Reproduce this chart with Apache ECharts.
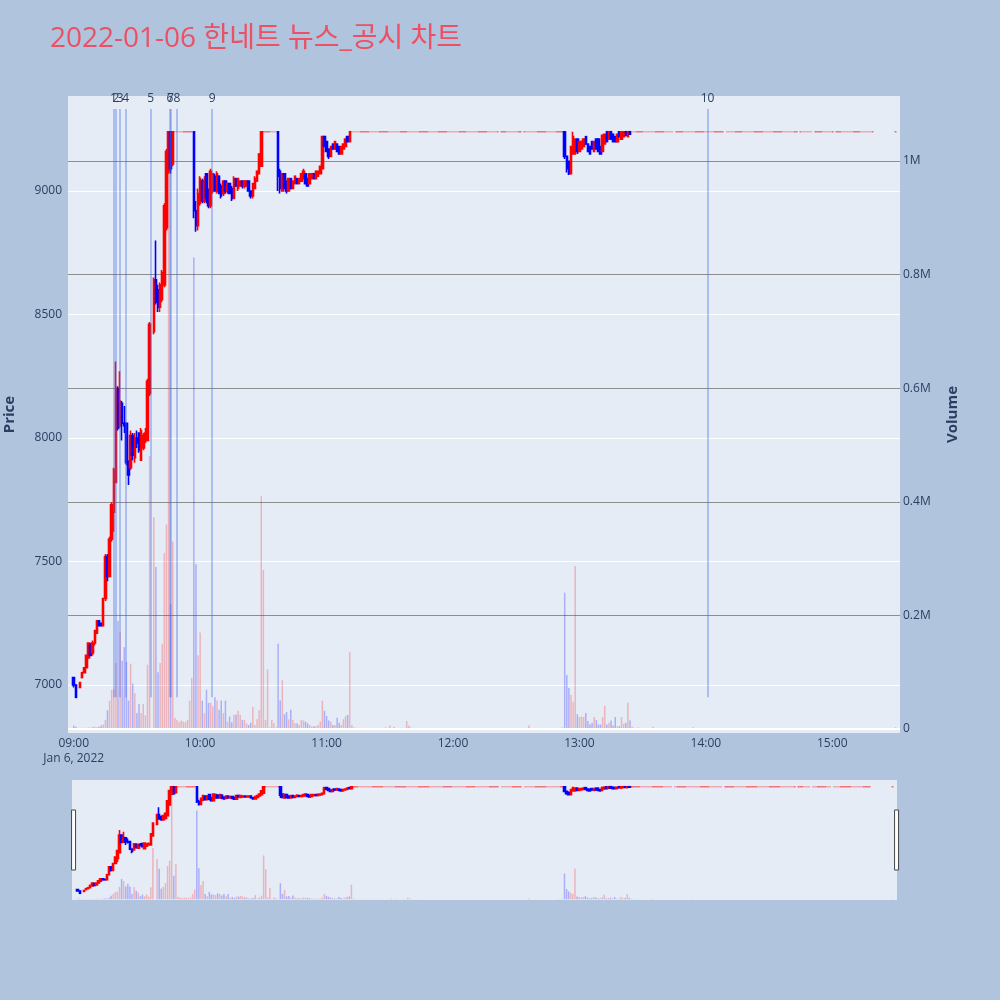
<!DOCTYPE html>
<html><head><meta charset="utf-8">
<script src="https://cdn.jsdelivr.net/npm/echarts@6/dist/echarts.min.js"></script>
<style>html,body{margin:0;padding:0;background:#b0c4de;}#c{width:1000px;height:1000px;}</style>
</head><body><div id="c"></div>
<script>
// ---------------- DATA ----------------
const chartTitle = '2022-01-06 한네트 뉴스_공시 차트';
const dateLabel = 'Jan 6, 2022';
const upperLimit = 9240;           // price of the minutes traded flat at the upper limit
// moving minutes: [time, open, high, low, close, volume]
const movingBars = [
['09:00',7030,7030,6990,7000,6000],['09:01',7000,7000,6950,6950,4000],['09:03',6990,7010,6990,7010,2000],
['09:04',7030,7050,7030,7050,1500],['09:05',7050,7070,7050,7070,2000],['09:06',7070,7120,7070,7120,2000],
['09:07',7110,7170,7110,7170,3000],['09:08',7160,7170,7120,7120,2000],['09:09',7130,7180,7120,7170,4000],
['09:10',7170,7220,7160,7220,4000],['09:11',7210,7260,7210,7260,3000],['09:12',7260,7260,7240,7240,4000],
['09:13',7250,7250,7240,7240,6000],['09:14',7240,7350,7240,7350,8000],['09:15',7350,7530,7340,7520,16000],
['09:16',7520,7530,7420,7440,33000],['09:17',7440,7600,7440,7590,50000],['09:18',7590,7740,7580,7730,69000],
['09:19',7700,7880,7620,7870,70000],['09:20',7820,8310,7820,8200,116000],['09:21',8200,8210,8030,8040,190000],
['09:22',8050,8270,8040,8150,170000],['09:23',8140,8150,7990,8060,120000],['09:24',8060,8130,8020,8050,144000],
['09:25',8060,8060,7890,7900,118000],['09:26',7900,7910,7810,7850,50000],['09:27',7880,8030,7870,8010,115000],
['09:28',8010,8020,7910,7930,80000],['09:29',7920,8020,7900,8000,63000],['09:30',8000,8030,7960,7980,28000],
['09:31',8020,8020,7940,7950,44000],['09:32',7910,8040,7910,8030,28000],['09:33',7960,8020,7950,8010,44000],
['09:34',7990,8040,7980,8020,24000],['09:35',7990,8240,7990,8230,113000],['09:36',8180,8470,8170,8460,480000],
['09:38',8430,8650,8420,8640,373000],['09:39',8640,8800,8540,8550,285000],['09:40',8600,8620,8510,8530,100000],
['09:41',8530,8630,8510,8620,116000],['09:42',8560,8680,8550,8670,150000],['09:43',8620,8950,8610,8940,310000],
['09:44',8850,9170,8840,9160,360000],['09:45',9080,9240,9070,9240,990000],['09:46',9240,9240,9070,9090,220000],
['09:47',9110,9240,9100,9240,330000],
['09:57',9240,9240,8890,8920,830000],['09:58',8920,8960,8835,8860,290000],['09:59',8860,9010,8840,8990,130000],
['10:00',8950,9060,8940,9050,170000],['10:01',9040,9050,8950,8960,50000],['10:02',8960,9060,8950,9040,28000],
['10:03',9070,9070,8950,8970,69000],['10:04',9000,9010,8930,8940,46000],['10:05',8940,9090,8930,9080,46000],
['10:06',9000,9070,8990,9070,40000],['10:07',9060,9070,9000,9000,56000],['10:08',9000,9080,8990,9070,50000],
['10:09',9060,9060,8990,8990,34000],['10:10',9020,9030,8970,8980,50000],['10:11',8990,9040,8980,9040,28000],
['10:12',9040,9040,8990,9000,50000],['10:13',9000,9030,8990,9030,13000],['10:14',9030,9030,8990,8990,22000],
['10:15',9010,9020,8960,8970,12000],['10:16',8970,9060,8970,9050,25000],['10:17',9050,9050,9020,9020,25000],
['10:18',9010,9050,9000,9050,32000],['10:19',9020,9040,9020,9040,25000],['10:20',9040,9040,9010,9020,16000],
['10:21',9020,9040,9010,9040,16000],['10:22',9020,9040,9020,9040,10000],['10:23',9040,9040,9000,9000,7000],
['10:24',9000,9000,8970,8980,11000],['10:25',8980,9030,8970,9030,39000],['10:26',9010,9060,9010,9050,7000],
['10:27',9040,9080,9040,9080,17000],['10:28',9070,9150,9070,9150,33000],['10:29',9100,9240,9100,9240,410000],
['10:37',9240,9240,9000,9060,150000],['10:38',9080,9090,8990,9010,50000],['10:39',9000,9070,9000,9070,86000],
['10:40',9070,9070,9010,9010,26000],['10:41',9040,9040,8990,9000,30000],['10:42',9000,9050,9000,9050,17000],
['10:43',9050,9050,9010,9010,34000],['10:44',9010,9040,9010,9040,16000],['10:45',9030,9060,9030,9060,10000],
['10:46',9050,9050,9030,9030,10000],['10:47',9030,9050,9030,9050,7000],['10:48',9040,9070,9040,9070,16000],
['10:49',9050,9090,9050,9080,15000],['10:50',9070,9070,9030,9030,13000],['10:51',9050,9050,9020,9020,10000],
['10:52',9030,9070,9030,9070,7000],['10:53',9050,9070,9050,9070,5000],['10:54',9070,9070,9050,9050,5000],
['10:55',9050,9080,9050,9080,5000],['10:56',9060,9080,9060,9080,7000],['10:57',9070,9100,9070,9100,13000],
['10:58',9090,9220,9090,9220,50000],['10:59',9220,9220,9180,9180,32000],['11:00',9200,9200,9160,9160,23000],
['11:01',9170,9170,9130,9140,15000],['11:02',9140,9180,9140,9180,13000],['11:03',9190,9190,9170,9170,7000],
['11:04',9170,9200,9170,9200,7000],['11:05',9190,9190,9160,9160,20000],['11:06',9180,9180,9150,9150,11000],
['11:07',9150,9180,9150,9180,7000],['11:08',9170,9190,9170,9190,17000],['11:09',9180,9210,9180,9210,23000],
['11:10',9220,9220,9200,9200,25000],['11:11',9200,9240,9200,9240,135000],
['12:53',9240,9240,9130,9140,240000],['12:54',9140,9140,9075,9090,95000],['12:55',9120,9120,9065,9070,72000],
['12:56',9070,9180,9070,9180,60000],['12:57',9150,9240,9150,9220,48000],['12:58',9150,9210,9150,9210,287000],
['12:59',9210,9210,9150,9160,26000],['13:00',9160,9200,9160,9200,21000],['13:01',9170,9200,9170,9200,22000],
['13:02',9180,9210,9180,9210,21000],['13:03',9220,9220,9190,9190,28000],['13:04',9190,9190,9160,9160,14000],
['13:05',9180,9180,9150,9150,8000],['13:06',9200,9200,9170,9170,11000],['13:07',9160,9200,9160,9200,21000],
['13:08',9210,9210,9170,9170,16000],['13:09',9210,9210,9160,9160,8000],['13:10',9180,9180,9150,9150,8000],
['13:11',9160,9225,9160,9225,21000],['13:12',9190,9230,9190,9230,41000],['13:13',9240,9240,9200,9200,8000],
['13:14',9210,9240,9210,9240,11000],['13:15',9240,9240,9210,9210,15000],['13:16',9230,9230,9200,9200,6000],
['13:17',9220,9220,9200,9200,21000],['13:18',9200,9230,9200,9230,5000],['13:19',9240,9240,9220,9220,5000],
['13:20',9210,9240,9210,9240,21000],['13:21',9220,9240,9220,9240,9000],['13:22',9240,9240,9225,9225,11000],
['13:23',9220,9240,9220,9240,46000],['13:24',9240,9240,9230,9230,15000]
];
// minutes traded flat at the upper limit: [time, volume]
const limitBars = [
['09:48',20000],['09:49',16000],['09:50',12000],['09:51',15000],['09:52',13000],['09:53',12000],['09:54',16000],['09:55',50000],['09:56',90000],
['10:30',280000],['10:31',16000],['10:32',105000],['10:33',3000],['10:34',16000],['10:35',10000],['10:36',3000],
['11:12',7000],['11:13',3000],['11:14',2000],['11:15',1000],['11:16',2000],['11:17',1500],['11:18',1000],['11:19',1000],['11:20',2000],['11:21',1000],
['11:22',1000],['11:23',1500],['11:24',1000],['11:25',1000],['11:26',2000],['11:27',1000],['11:28',3000],['11:29',1000],['11:30',6000],['11:31',1000],
['11:32',4000],['11:33',1000],['11:34',1500],['11:35',1000],['11:36',2000],['11:37',1000],['11:38',14000],['11:39',6000],['11:40',3000],['11:41',1000],
['11:42',1000],['11:43',1500],['11:44',1000],['11:45',1000],['11:46',1000],['11:47',500],['11:48',1000],['11:49',1000],['11:50',500],['11:51',1000],
['11:52',1000],['11:53',500],['11:54',1000],['11:55',1000],['11:56',500],['11:57',1000],['11:58',1000],['11:59',500],
['12:00',1000],['12:01',500],['12:02',1000],['12:03',1000],['12:04',500],['12:05',1000],['12:06',1000],['12:07',500],['12:08',1000],['12:09',1000],
['12:10',500],['12:11',1000],['12:12',1000],['12:13',500],['12:14',1000],['12:15',1000],['12:16',500],['12:17',1000],['12:18',1000],['12:19',500],
['12:20',1000],['12:21',1000],['12:23',500],['12:24',1000],['12:25',1000],['12:26',500],['12:27',1000],['12:28',1000],['12:29',500],['12:30',1000],
['12:31',1000],['12:32',500],['12:34',1000],['12:35',1500],['12:36',6000],['12:37',1000],['12:38',500],['12:39',1000],['12:40',1000],['12:41',500],
['12:42',1000],['12:43',1000],['12:44',500],['12:45',1000],['12:46',1000],['12:47',500],['12:48',1000],['12:49',1000],['12:50',1500],['12:51',2000],['12:52',3000],
['13:25',4000],['13:26',2000],['13:27',1000],['13:28',3000],['13:29',1000],['13:30',1000],['13:31',1500],['13:32',1000],['13:33',1000],['13:34',1000],
['13:35',4000],['13:36',1000],['13:37',1000],['13:38',500],['13:39',1000],['13:40',1000],['13:41',500],['13:42',1000],['13:43',1000],['13:44',500],
['13:46',1000],['13:47',500],['13:48',1000],['13:49',1000],['13:50',500],['13:51',1000],['13:52',500],['13:53',1000],['13:54',3000],['13:55',500],
['13:56',1000],['13:57',500],['13:58',1000],['13:59',500],
['14:00',1000],['14:01',1500],['14:02',500],['14:03',1000],['14:04',500],['14:05',1000],['14:06',500],['14:07',1000],['14:08',500],
['14:10',1000],['14:11',500],['14:12',1000],['14:13',500],['14:14',1000],['14:15',500],['14:16',1000],['14:17',500],['14:18',1000],['14:19',500],
['14:20',1000],['14:21',500],['14:22',1000],['14:23',500],['14:24',1000],['14:25',500],['14:26',1000],['14:27',500],['14:28',1000],['14:29',500],
['14:30',1000],['14:31',500],['14:32',1000],['14:33',500],['14:34',1000],['14:35',500],['14:36',1000],['14:37',500],['14:38',1000],['14:39',500],
['14:40',1000],['14:41',500],['14:42',1000],['14:43',500],['14:45',1000],['14:46',500],['14:47',1000],['14:48',500],['14:49',1000],['14:50',500],
['14:52',1000],['14:53',500],['14:54',1000],['14:55',500],['14:56',1000],['14:57',500],['14:58',1000],['14:59',500],
['15:00',1000],['15:02',500],['15:03',1000],['15:04',500],['15:05',1000],['15:06',500],['15:07',1000],['15:08',500],['15:09',1000],['15:10',500],
['15:11',1000],['15:12',500],['15:13',1000],['15:14',500],['15:15',1000],['15:16',500],['15:17',1000],['15:18',500],['15:19',1000],
['15:30',3000]
];
// news / disclosure markers
const eventLabels = ['1','2','3','4','5','6','7','8','9','10'];
const eventTimes = ['09:18:50','09:20:00','09:22:00','09:24:40','09:36:30','09:45:40','09:45:50','09:49:00','10:05:40','14:00:50'];
const eventLineLow = 6950, eventLineHigh = 9332;
// axis ranges
const xRange = ['08:57:38', '15:31:47'];
const priceRange = [6805.7, 9384.6];
const volumeRange = [-7040, 1114400];

// ---------------- BUILD ----------------
function ts(s) { const p = s.split(':').map(Number); return new Date(2022, 0, 6, p[0], p[1], p[2] || 0).getTime(); }
const rows = movingBars.map(r => ({ t: ts(r[0]), o: r[1], h: r[2], l: r[3], c: r[4], v: r[5] }))
  .concat(limitBars.map(r => ({ t: ts(r[0]), o: upperLimit, h: upperLimit, l: upperLimit, c: upperLimit, v: r[1] })))
  .sort((a, b) => a.t - b.t);
const UP = '#ff0000', DOWN = '#0000ff';
const UPV = 'rgba(255,0,0,0.24)', DOWNV = 'rgba(0,0,255,0.26)';
const candleData = rows.map(r => [r.t, r.o, r.c, r.l, r.h]);
const volData = rows.map(r => ({ value: [r.t, r.v], itemStyle: { color: r.c < r.o ? DOWNV : UPV } }));
const FONT = '"Open Sans", "Noto Sans CJK KR", sans-serif';
const TXT = '#2a3f5f';
const pad = n => String(n).padStart(2, '0');

const candleStyle = { color: UP, color0: DOWN, borderColor: UP, borderColor0: DOWN,
  borderColorDoji: 'rgba(255,0,0,0.55)', borderWidth: 1.6 };

const chart = echarts.init(document.getElementById('c'), null, { renderer: 'canvas' });
chart.setOption({
  animation: false,
  backgroundColor: '#b0c4de',
  textStyle: { fontFamily: FONT },
  title: { text: chartTitle, left: 45, top: 20, textStyle: { color: '#ec5064', fontSize: 28, fontWeight: 'normal', fontFamily: FONT } },
  grid: [
    { left: 68, top: 96, width: 832, height: 637, show: true, backgroundColor: '#e5ecf6', borderWidth: 0,
      containLabel: false, outerBoundsMode: 'none' },
    { left: 72, top: 780, width: 825, height: 120, show: true, backgroundColor: '#e5ecf6', borderWidth: 0,
      containLabel: false, outerBoundsMode: 'none' }
  ],
  xAxis: [
    { type: 'time', gridIndex: 0, min: ts(xRange[0]), max: ts(xRange[1]), splitNumber: 7,
      axisLine: { show: false }, axisTick: { show: false }, splitLine: { show: false },
      axisLabel: { color: TXT, fontSize: 12, margin: 3, lineHeight: 15, showMinLabel: false, showMaxLabel: false,
        formatter: function (v) { const d = new Date(v); const s = pad(d.getHours()) + ':' + pad(d.getMinutes());
          return (d.getHours() === 9 && d.getMinutes() === 0) ? s + '\n' + dateLabel : s; } } },
    { type: 'time', gridIndex: 1, min: ts(xRange[0]), max: ts(xRange[1]), show: false }
  ],
  yAxis: [
    { type: 'value', gridIndex: 0, position: 'left', min: priceRange[0], max: priceRange[1], splitNumber: 5,
      axisLine: { show: false }, axisTick: { show: false },
      axisLabel: { color: TXT, fontSize: 12, margin: 6, showMinLabel: false, showMaxLabel: false,
        formatter: v => String(Math.round(v)) },
      splitLine: { show: true, showMinLine: false, showMaxLine: false, lineStyle: { color: '#ffffff', width: 1 } },
      name: 'Price', nameLocation: 'middle', nameGap: 51, nameRotate: 90,
      nameTextStyle: { color: TXT, fontSize: 15, fontWeight: 'bold' } },
    { type: 'value', gridIndex: 0, position: 'right', min: volumeRange[0], max: volumeRange[1], splitNumber: 5,
      axisLine: { show: false }, axisTick: { show: false },
      axisLabel: { color: TXT, fontSize: 12, margin: 3, showMinLabel: false, showMaxLabel: false,
        formatter: v => v === 0 ? '0' : (v / 1e6) + 'M' },
      splitLine: { show: true, showMinLine: false, showMaxLine: false, lineStyle: { color: '#8e8e8e', width: 1 } },
      name: 'Volume', nameLocation: 'middle', nameGap: 45, nameRotate: 90,
      nameTextStyle: { color: TXT, fontSize: 15, fontWeight: 'bold' } },
    { type: 'value', gridIndex: 1, min: priceRange[0], max: priceRange[1], show: false, splitLine: { show: false } },
    { type: 'value', gridIndex: 1, min: volumeRange[0], max: volumeRange[1], show: false, splitLine: { show: false } }
  ],
  dataZoom: [{
    type: 'slider', xAxisIndex: 0, left: 72, width: 825, top: 780, height: 120, start: 0, end: 100,
    filterMode: 'none', showDataShadow: false, showDetail: false, brushSelect: false, moveHandleSize: 0,
    backgroundColor: 'rgba(0,0,0,0)', borderColor: 'rgba(0,0,0,0)', fillerColor: 'rgba(0,0,0,0)',
    handleIcon: 'path://M0,0H4V60H0Z', handleSize: '50%',
    handleStyle: { color: '#ffffff', borderColor: '#444444', borderWidth: 1 }, z: 20
  }],
  series: [
    { type: 'bar', name: 'Volume', xAxisIndex: 0, yAxisIndex: 1, barWidth: 1.5, z: 1, data: volData,
      markLine: { silent: true, symbol: ['none', 'none'], label: { show: false },
        lineStyle: { color: '#ffffff', width: 2, type: 'solid' }, data: [{ yAxis: 0 }] } },
    { type: 'candlestick', name: 'Price', xAxisIndex: 0, yAxisIndex: 0, barWidth: 2, z: 3,
      encode: { x: 0, y: [1, 2, 3, 4] }, itemStyle: candleStyle, data: candleData,
      markLine: { silent: true, symbol: ['none', 'none'],
        lineStyle: { color: 'rgba(65,105,225,0.35)', width: 2, type: 'solid' },
        label: { show: true, position: 'end', formatter: '{b}', color: TXT, fontSize: 12, distance: 4 },
        data: eventTimes.map((t, i) => [{ coord: [ts(t), eventLineLow], name: eventLabels[i] }, { coord: [ts(t), eventLineHigh] }]) } },
    { type: 'bar', xAxisIndex: 1, yAxisIndex: 3, barWidth: 1.5, z: 1, data: volData, silent: true },
    { type: 'candlestick', xAxisIndex: 1, yAxisIndex: 2, barWidth: 2, z: 3, silent: true,
      encode: { x: 0, y: [1, 2, 3, 4] }, itemStyle: candleStyle, data: candleData }
  ]
});
</script></body></html>
